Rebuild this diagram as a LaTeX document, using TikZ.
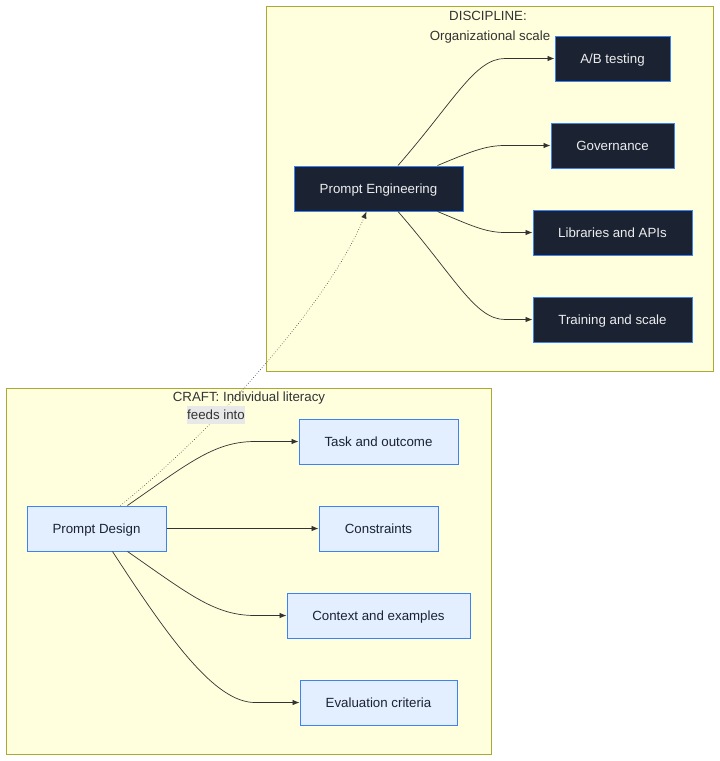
\documentclass[tikz,border=0pt]{standalone}
\usepackage{fontspec}
\setmainfont{Liberation Sans}
\usetikzlibrary{arrows.meta}
\definecolor{clfill}{HTML}{FFFFDE}
\definecolor{clborder}{HTML}{AAAA33}
\definecolor{darkfill}{HTML}{1B2333}
\definecolor{nodeblue}{HTML}{3B82F6}
\definecolor{lightfill}{HTML}{E3EFFF}
\definecolor{edgecol}{HTML}{333333}
\definecolor{lbl}{HTML}{333333}
\definecolor{lblbg}{HTML}{E8E8E8}
\tikzset{
  cluster/.style={draw=clborder, fill=clfill, line width=0.8pt},
  darkbox/.style={draw=nodeblue, fill=darkfill, text=white!93!black, line width=1pt, minimum height=45pt, inner sep=0pt, text height=9.5pt, text depth=0.5pt, font=\fontsize{13.3}{15}\selectfont},
  lightbox/.style={draw=nodeblue, fill=lightfill, text=darkfill, line width=1pt, minimum height=45pt, inner sep=0pt, text height=9.5pt, text depth=0.5pt, font=\fontsize{13.3}{15}\selectfont},
  cltext/.style={text=lbl, font=\fontsize{13.3}{15}\selectfont, inner sep=0pt, text height=9.5pt, text depth=0.5pt},
  edge/.style={draw=edgecol, line width=0.7pt, -{Latex[length=7pt,width=5.5pt]}},
  feed/.style={draw=edgecol, line width=0.6pt, dotted, -{Latex[length=7pt,width=5.5pt]}},
}
\begin{document}
\begin{tikzpicture}[x=1pt,y=-1pt]
\useasboundingbox (0,0) rectangle (720,761);
% clusters
\path[cluster] (266,6) rectangle (713,371);
\path[cluster] (6,388) rectangle (491,754);
\node[cltext] (dlab1) at (488,16) {DISCIPLINE:};
\node[cltext] (dlab2) at (490,36) {Organizational scale};
\node[cltext] (clab) at (249,397) {CRAFT: Individual literacy};
% discipline nodes
\node[darkbox, minimum width=169pt] (pe) at (378.5,188.5) {Prompt Engineering};
\node[darkbox, minimum width=115pt] (ab) at (612.5,58.5) {A/B testing};
\node[darkbox, minimum width=123pt] (gov) at (612.5,145.5) {Governance};
\node[darkbox, minimum width=159pt] (lib) at (612.5,232.5) {Libraries and APIs};
\node[darkbox, minimum width=159pt] (train) at (612.5,319.5) {Training and scale};
% craft nodes
\node[lightbox, minimum width=139pt] (pd) at (96.5,528.5) {Prompt Design};
\node[lightbox, minimum width=159pt] (task) at (378.5,441.5) {Task and outcome};
\node[lightbox, minimum width=119pt] (cons) at (378.5,528.5) {Constraints};
\node[lightbox, minimum width=183pt] (ctx) at (378.5,615.5) {Context and examples};
\node[lightbox, minimum width=157pt] (eval) at (378.5,702.5) {Evaluation criteria};
% discipline edges
\coordinate (pe1) at ([xshift=19.5pt]pe.north);
\coordinate (pe2) at ([xshift=-26pt]pe.north east);
\coordinate (pe3) at ([xshift=-26pt]pe.south east);
\coordinate (pe4) at ([xshift=19.5pt]pe.south);
\draw[edge] (pe1) .. controls (455,100) and (475,58.5) .. (505,58.5) -- (ab.west);
\draw[edge] (pe2) .. controls (470,152) and (485,145.5) .. (505,145.5) -- (gov.west);
\draw[edge] (pe3) .. controls (470,225) and (485,232.5) .. (505,232.5) -- (lib.west);
\draw[edge] (pe4) .. controls (455,277) and (475,319.5) .. (505,319.5) -- (train.west);
% craft edges
\coordinate (pd1) at ([xshift=31pt]pd.north);
\coordinate (pd2) at ([xshift=31pt]pd.south);
\coordinate (pd3) at ([xshift=16pt]pd.south);
\draw[edge] (pd1) .. controls (190,462) and (215,441.5) .. (255,441.5) -- (task.west);
\draw[edge] (pd.east) -- (cons.west);
\draw[edge] (pd2) .. controls (190,595) and (215,615.5) .. (255,615.5) -- (ctx.west);
\draw[edge] (pd3) .. controls (170,640) and (215,702.5) .. (255,702.5) -- (eval.west);
% feeds into
\coordinate (pdtop) at ([xshift=24pt]pd.north);
\coordinate (pebot) at ([xshift=-12pt]pe.south);
\draw[feed] (pdtop) .. controls (220,425) and (330,300) .. (pebot);
\node[fill=lblbg, text=lbl, font=\fontsize{13.3}{15}\selectfont, inner sep=0pt, text height=9.5pt, text depth=0.5pt, minimum width=58pt, minimum height=18pt] (flab) at (216,415) {feeds into};
\end{tikzpicture}
\end{document}
